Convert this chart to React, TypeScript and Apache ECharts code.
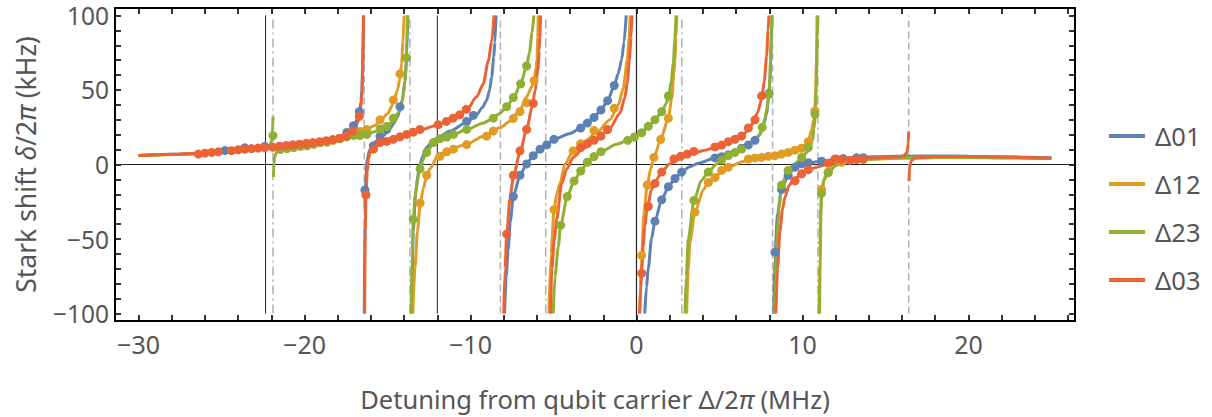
import React, { useEffect, useRef } from "react";
import * as echarts from "echarts";

const X_MIN = -31.42;
const X_MAX = 26.42;
const Y_MIN = -105;
const Y_MAX = 105;

const seriesNames = ["Δ01", "Δ12", "Δ23", "Δ03"];
const seriesColors = ["#5E81B5", "#E19C24", "#8FB032", "#EB6235"];

const solidLinesX = [-22.35, -12.0];
const dashedLinesX = [-16.4, -8.2, 8.2, 16.4];
const dashDotLinesX = [-21.9, -13.65, -5.47, 2.73, 10.93];

// fitted curves, split at the resonances
const curve01 = [
  [[-30,6.0],[-28,6.8],[-26,7.7],[-24,9.8],[-22,11.8],[-20,14.2],[-19,15.5],[-18,17.8],[-17.5,20],[-17.2,23],[-17.0,26],[-16.8,31],[-16.7,35],[-16.6,42],[-16.55,50],[-16.5,65],[-16.47,82],[-16.45,100]],
  [[-16.4,-100],[-16.37,-30],[-16.3,-8],[-16.22,3.5],[-16.1,9],[-15.95,12.5],[-15.6,16.5],[-15.25,19.5],[-14.9,23.5],[-14.65,27],[-14.4,32],[-14.25,37],[-14.1,44],[-13.95,56],[-13.85,72],[-13.78,100]],
  [[-13.55,-100],[-13.45,-45],[-13.3,-18],[-13.1,-3],[-12.9,5],[-12.64,11.5],[-12.3,15.5],[-11.98,18],[-11.23,22.4],[-10.23,28.3],[-9.63,33.3],[-9.3,38],[-9.03,43],[-8.85,50],[-8.73,58.6],[-8.6,72],[-8.53,82],[-8.46,100]],
  [[-7.95,-100],[-7.85,-75],[-7.74,-57.7],[-7.6,-38],[-7.42,-21.5],[-7.02,-7.2],[-6.62,0.4],[-6.22,5.9],[-5.81,10.3],[-5.41,13.1],[-4.97,16.9],[-4.0,20.8],[-3.36,24.5],[-2.96,27.8],[-2.56,31.6],[-2.14,36.6],[-1.74,42.8],[-1.34,53],[-1.1,61],[-0.89,70.6],[-0.75,82],[-0.62,100]],
  [[0.5,-100],[0.6,-82],[0.71,-70],[0.9,-50],[1.11,-38],[1.52,-23.7],[1.92,-14.9],[2.32,-9.4],[2.72,-5.1],[3.2,-1.5],[3.72,0.9],[4.73,4.4],[5.83,8.1],[6.5,11.5],[7.14,16.2],[7.44,20.2],[7.7,28],[7.84,34.4],[7.98,47.6],[8.04,57],[8.08,70],[8.13,85],[8.17,100]],
  [[8.27,-100],[8.34,-60],[8.5,-33],[8.74,-16.7],[9.14,-7.2],[9.55,-1.8],[10.25,0.9],[11.15,2.2],[12.05,3.7],[13.46,5],[15,5.4],[16.4,5.6],[18,5.7],[20,5.6],[22,5.2],[25,4.6]],
];
const curve12 = [
  [[-30,6.0],[-28,6.7],[-26,7.5],[-24,9.5],[-22,11.3],[-20,13.6],[-18.5,16],[-17.3,20],[-16.6,22.5],[-16.25,23.6],[-15.8,26],[-15.45,29],[-15.0,34],[-14.65,41],[-14.4,50],[-14.25,58],[-14.15,68],[-14.07,82],[-14.0,100]],
  [[-13.48,-100],[-13.34,-68.7],[-13.2,-45],[-13.04,-27],[-12.84,-16],[-12.64,-7.5],[-12.44,-2.9],[-11.98,5.9],[-11.23,10.3],[-10.23,13.6],[-9.23,19],[-8.23,24.6],[-7.62,29],[-7.02,36.6],[-6.62,45.4],[-6.32,52],[-6.17,57],[-6.05,65],[-5.99,71],[-5.95,85],[-5.92,100]],
  [[-5.28,-100],[-5.15,-60],[-4.97,-31],[-4.81,-20],[-4.61,-12.7],[-4.31,0.4],[-3.81,9.2],[-3.21,14.7],[-2.4,21.3],[-1.6,30],[-1.1,39.9],[-0.8,50.9],[-0.55,70.6],[-0.45,85],[-0.38,100]],
  [[0.2,-100],[0.31,-61],[0.45,-32.5],[0.65,-13.8],[0.85,-3],[1.05,4.8],[1.46,16.9],[1.92,31.1],[2.12,44.3],[2.26,61.8],[2.32,70.6],[2.38,85],[2.43,100]],
  [[3.02,-100],[3.12,-70],[3.22,-52],[3.52,-32],[4.02,-17.1],[4.33,-12],[4.73,-8.8],[5.13,-4.5],[5.53,-1.8],[6.43,2],[7.14,4.2],[7.94,5.3],[8.74,7],[9.14,8.1],[9.55,9.6],[9.95,11],[10.2,13.5],[10.4,17.5],[10.55,23],[10.68,30],[10.75,37],[10.8,50],[10.84,68],[10.88,100]],
  [[11.0,-100],[11.05,-60],[11.1,-30],[11.15,-18],[11.3,-9.5],[11.55,-4.5],[11.95,-0.7],[12.36,1.3],[13.0,2.8],[14,3.6],[16,4.2],[18,4.6],[20,4.6],[22,4.4],[25,4.0]],
];
const curve23 = [
  [[-30,6.0],[-28,6.7],[-26,7.5],[-24,9.5],[-22.5,11.3],[-22.1,12.5],[-21.98,16],[-21.93,22],[-21.9,32]],
  [[-21.88,-8.4],[-21.85,0],[-21.8,5],[-21.7,8],[-21.46,9.8],[-21,10.8],[-20,12.2],[-19,14.2],[-18,16.5],[-17.3,18.3],[-16.66,19.5],[-16.25,20.5],[-15.6,22.5],[-15.25,24.1],[-14.9,27],[-14.65,30],[-14.4,34],[-14.25,36.6],[-14.1,43],[-14.04,47.6],[-13.95,56],[-13.88,65.2],[-13.84,80],[-13.8,100]],
  [[-13.58,-100],[-13.51,-57.7],[-13.45,-37],[-13.34,-22],[-13.2,-10],[-13.04,-2.9],[-12.85,3.5],[-12.64,8.5],[-12.3,13],[-11.98,15.8],[-11.23,19.2],[-10.23,23.4],[-9.23,27.9],[-8.63,31],[-8.23,34.4],[-7.82,38.8],[-7.42,44.5],[-6.98,54],[-6.62,66],[-6.45,75],[-6.3,88],[-6.18,100]],
  [[-5.02,-100],[-4.91,-75],[-4.71,-55],[-4.57,-40.8],[-4.17,-21.5],[-3.76,-11],[-3.36,-4.4],[-2.96,1.5],[-2.56,5.3],[-2.14,8.6],[-1.2,13.6],[-0.53,16.2],[-0.13,18.4],[0.31,21.3],[0.71,25.6],[1.11,30],[1.52,35.5],[1.8,41],[1.92,45],[2.1,56],[2.22,68],[2.3,82],[2.38,100]],
  [[2.92,-100],[3.0,-75],[3.12,-50],[3.46,-24.1],[3.92,-10.5],[4.33,-5.1],[4.8,0],[5.13,3],[5.53,5.9],[6.23,9.8],[6.74,13.5],[7.14,16.5],[7.4,20],[7.58,25],[7.74,31],[7.84,36.6],[7.98,47],[8.04,58],[8.08,70],[8.13,86],[8.17,100]],
  [[8.32,-100],[8.37,-75],[8.44,-52],[8.6,-28],[8.74,-13.8],[9.14,-4],[9.55,0.5],[9.95,4.5],[10.2,7.5],[10.45,10.5],[10.6,16],[10.7,24],[10.77,34],[10.82,50],[10.86,70],[10.9,85],[10.93,100]],
  [[11.03,-100],[11.07,-62],[11.11,-35],[11.15,-20],[11.3,-10.5],[11.55,-5.5],[12.05,-0.5],[12.5,1.5],[13.5,3.2],[15,4.2],[16.4,4.7],[18,5.0],[20,4.9],[22,4.6],[25,4.1]],
];
const curve03 = [
  [[-30,6.0],[-28,6.8],[-26,7.6],[-24,9.6],[-22,11.6],[-20,14.0],[-19,15.2],[-18,17.3],[-17.5,19.2],[-17.2,21.5],[-17.0,23.5],[-16.8,28],[-16.7,32],[-16.6,39],[-16.55,45],[-16.5,60],[-16.47,80],[-16.45,100]],
  [[-16.38,-100],[-16.34,-45],[-16.3,-20],[-16.22,-5],[-16.15,3.7],[-16.01,10],[-15.85,12.5],[-15.65,14.3],[-15.25,15.8],[-14.5,18],[-13.24,22.4],[-12,26.3],[-11.23,30],[-10.23,36.6],[-9.63,45.4],[-9.23,54],[-8.93,69.5],[-8.72,82.6],[-8.58,100]],
  [[-8.0,-100],[-7.92,-70],[-7.82,-46.7],[-7.62,-22.6],[-7.42,-8.3],[-7.02,8.1],[-6.62,23.4],[-6.3,38],[-6.1,50],[-5.95,63],[-5.85,76],[-5.78,100]],
  [[-5.18,-100],[-5.1,-70],[-4.95,-50],[-4.81,-37],[-4.51,-13],[-4.2,-3],[-3.81,4.8],[-3.21,10.9],[-2.4,16.9],[-1.6,24.5],[-1.0,34.4],[-0.7,45],[-0.55,55],[-0.43,70],[-0.33,85],[-0.27,100]],
  [[0.18,-100],[0.26,-82],[0.31,-72],[0.4,-55],[0.5,-42],[0.61,-32],[0.71,-26],[0.9,-17],[1.11,-12],[1.52,-5],[2.0,0.5],[2.5,3.5],[3.2,7],[4.2,9.8],[4.8,11.8],[5.3,13.6],[5.9,16.2],[6.3,19],[6.74,23],[7.04,28],[7.3,35],[7.54,44],[7.7,56],[7.84,73],[7.93,90],[7.98,100]],
  [[8.4,-100],[8.5,-70],[8.64,-45],[8.8,-30],[8.94,-22],[9.2,-14],[9.45,-10.5],[10.05,-5.1],[10.85,-1.8],[11.65,0.9],[12.3,2.6],[12.86,3.5],[13.46,4.2],[14.5,4.6],[15.67,5.0],[16.1,5.8],[16.3,8],[16.37,14],[16.4,22]],
  [[16.42,-11],[16.45,-2],[16.55,2.5],[16.8,4.4],[18,5.4],[20,5.4],[22,5.0],[25,4.2]],
];

// measured points
const dots01 = [[-24.8,9.4],[-23.6,11.2],[-22.4,12.1],[-17.45,21.5],[-17.05,26],[-16.7,35.5],[-16.36,-17.1],[-15.85,12.5],[-15.45,19],[-15.05,23.4],[-14.25,38.8],[-10.23,29],[-9.83,33],[-7.42,-21.5],[-7.02,-7.2],[-6.62,0.4],[-6.22,5.9],[-5.81,10.3],[-5.41,13.1],[-4.97,16.9],[-3.36,24.5],[-2.96,27.8],[-2.56,31.6],[-2.14,36.6],[-1.74,42.8],[-1.34,53],[1.11,-38],[1.52,-23.7],[1.92,-14.9],[2.32,-9.4],[2.72,-5.1],[4.73,4.4],[5.13,5.2],[5.53,6.5],[6.33,10.9],[6.74,13.1],[7.14,16.2],[7.98,47.6],[8.34,-58.8],[8.74,-16.7],[9.14,-7.2],[9.55,-1.8],[9.95,0.5],[10.35,1.2],[11.15,2.2],[12.06,3.5],[12.46,4.0],[13.26,4.5],[13.66,4.6]];
const dots12 = [[-19.9,13.6],[-18.3,16.2],[-16.65,22.2],[-16.25,23.4],[-15.45,30],[-14.65,43.2],[-14.25,60.8],[-13.04,-25.9],[-12.64,-7.2],[-11.84,5.5],[-11.43,8.5],[-11.03,10.3],[-10.23,13.4],[-9.03,19],[-8.63,22.4],[-7.42,31],[-7.02,35.5],[-6.62,41.5],[-6.17,56.3],[-4.97,-30.3],[-3.81,9.2],[-3.36,14],[-2.56,22.8],[-1.34,37.7],[0.31,-61],[0.65,-13.8],[1.05,4.8],[1.46,16.9],[1.92,31.1],[3.52,-32],[4.33,-12],[4.73,-8.8],[5.13,-4],[5.53,-1.8],[6.74,3.7],[7.14,4.4],[7.54,4.8],[7.94,5.5],[8.34,5.9],[8.74,7.0],[9.14,8.1],[9.55,9.6],[9.95,10.9],[10.35,15.3],[10.75,35.9],[11.15,-16.7],[11.55,-5.1],[12.36,1.5]];
const dots23 = [[-21.9,19.4],[-21.46,10],[-21.06,10.7],[-20.65,11.4],[-20.25,12.1],[-19.85,12.5],[-19.45,13.6],[-19.05,14.7],[-18.65,15.1],[-18.25,16.4],[-17.85,17.3],[-17.45,18.6],[-17.05,19.5],[-16.66,19.5],[-16.25,20.2],[-15.45,23.9],[-15.05,25.5],[-14.65,31.1],[-13.85,71.7],[-13.45,-36.8],[-13.04,-2.9],[-12.64,8.1],[-12.24,14.7],[-11.84,17.3],[-11.43,18.4],[-11.03,20.2],[-10.23,23.5],[-8.63,31.1],[-7.82,38.8],[-7.42,44.9],[-6.98,54.1],[-6.62,66.1],[-4.57,-40.8],[-4.17,-21.5],[-3.76,-11],[-3.36,-4.4],[-2.96,1.5],[-2.56,5.3],[-2.14,8.6],[-0.53,16.2],[-0.13,18.4],[0.31,21.3],[0.71,25.6],[1.11,30],[1.52,35.5],[1.92,46],[3.46,-24.1],[4.33,-5.1],[5.13,3],[5.53,5.9],[5.93,8.1],[6.33,10.3],[7.58,25],[7.98,47],[8.74,-13.8],[9.14,-4],[9.95,4.8],[10.35,11.4],[10.75,33.8],[11.15,-19.3],[11.55,-5.5]];
const dots03 = [[-26.4,7.0],[-26.0,7.6],[-25.6,8.1],[-25.2,8.5],[-24.4,9.3],[-24.0,9.9],[-23.6,10.3],[-23.2,10.7],[-22.8,11.0],[-22.4,11.3],[-21.9,11.6],[-21.5,12.3],[-21.1,12.8],[-20.7,13.2],[-20.3,13.6],[-19.9,14.2],[-19.5,14.7],[-19.1,15.3],[-18.7,16.0],[-18.3,16.7],[-17.9,17.6],[-17.5,19.0],[-17.1,22.4],[-16.7,32.3],[-16.3,-20.4],[-15.85,10.3],[-15.45,14.7],[-15.05,15.5],[-14.65,16.9],[-14.25,18.6],[-13.85,20.2],[-13.45,21.7],[-13.05,23.5],[-11.95,26.7],[-11.45,28.9],[-11.05,31.1],[-10.65,33.3],[-10.25,37.0],[-7.82,-46.7],[-7.42,-7.2],[-7.02,9.2],[-6.62,23.4],[-6.22,41.0],[-3.36,11.4],[-2.96,14.0],[-2.56,16.2],[-2.14,19.1],[-1.74,23.4],[0.31,-73],[0.71,-28.1],[1.11,-12.7],[1.52,-5.1],[2.26,3.7],[2.66,5.5],[3.06,7.0],[3.46,8.8],[4.73,11.8],[5.13,13.0],[5.53,15.3],[5.93,16.9],[6.33,19.1],[6.74,24.5],[7.14,30],[7.54,46],[9.55,-10.9],[9.95,-6.2],[10.35,-3.5],[11.55,0.9],[11.96,3.7],[12.36,3.3],[12.86,2.8],[13.26,3.3],[13.66,3.5]];

const curves = [curve01, curve12, curve23, curve03];
const dots = [dots01, dots12, dots23, dots03];

const FONT = "Noto Sans";
const TEXT = "#555555";

function joinSegments(segs: number[][][]) {
  const out: any[] = [];
  segs.forEach((s, i) => {
    if (i > 0) out.push([s[0][0], "-"]);
    s.forEach((p) => out.push(p));
  });
  return out;
}
function vLines(xs: number[], lo: number, hi: number) {
  const out: any[] = [];
  xs.forEach((x, i) => {
    if (i > 0) out.push([x, "-"]);
    out.push([x, lo], [x, hi]);
  });
  return out;
}
const minus = (s: string) => s.replace("-", "\u2212");

export default function App() {
  const ref = useRef<HTMLDivElement>(null);
  useEffect(() => {
    if (!ref.current) return;
    const chart = echarts.init(ref.current, undefined, { renderer: "svg" });
    const axisLine = { show: true, onZero: false, lineStyle: { color: "#000", width: 2 } };
    const tick = { show: true, inside: true, length: 6, lineStyle: { color: "#000", width: 1.6 } };
    const minorT = { show: true, splitNumber: 5, length: 6, lineStyle: { color: "#000", width: 1.6 } };
    const xBase = { type: "value", min: X_MIN, max: X_MAX, minInterval: 10, maxInterval: 10, axisLine, axisTick: tick, minorTick: minorT, splitLine: { show: false } };
    const yBase = { type: "value", min: Y_MIN, max: Y_MAX, minInterval: 50, maxInterval: 50, axisLine, axisTick: tick, minorTick: minorT, splitLine: { show: false } };
    const labelStyle = { fontFamily: FONT, fontSize: 25, lineHeight: 20, color: TEXT };

    const series: any[] = [];
    series.push({ type: "line", data: vLines(solidLinesX, -100, 100), symbol: "none", silent: true, z: 1, lineStyle: { color: "#222", width: 1 } });
    series.push({ type: "line", data: [[0, Y_MIN], [0, Y_MAX], [0, "-"], [X_MIN, 0], [X_MAX, 0]], symbol: "none", silent: true, z: 1, lineStyle: { color: "#222", width: 1.2 } });
    series.push({ type: "line", data: vLines(dashedLinesX, -100, 100), symbol: "none", silent: true, z: 1, lineStyle: { color: "#b0b0b0", width: 1.5, type: [7, 4] } });
    series.push({ type: "line", data: vLines(dashDotLinesX, -100, 100), symbol: "none", silent: true, z: 1, lineStyle: { color: "#b0b0b0", width: 1.5, type: [9, 4, 2, 4] } });
    seriesNames.forEach((name, i) => {
      series.push({
        name, type: "line", data: joinSegments(curves[i] as number[][][]), symbol: "none", showSymbol: false,
        smooth: 0.25, smoothMonotone: "x", z: 2, connectNulls: false,
        lineStyle: { color: seriesColors[i], width: 3 }, itemStyle: { color: seriesColors[i] },
      });
    });
    seriesNames.forEach((name, i) => {
      series.push({
        name, type: "scatter", data: dots[i], symbol: "circle", symbolSize: 9, z: 3,
        itemStyle: { color: seriesColors[i], opacity: 1 },
      });
    });

    const titleStyle = (size: number, pad: number[]) => ({
      fontFamily: FONT, fontSize: size, color: TEXT, padding: pad,
      rich: { i: { fontFamily: FONT, fontSize: size, color: TEXT, fontStyle: "italic" } },
    });

    chart.setOption({
      animation: false,
      backgroundColor: "#fff",
      grid: { left: 115, top: 8, width: 960, height: 320, containLabel: false },
      xAxis: [
        {
          ...xBase, position: "bottom",
          axisLabel: { ...labelStyle, margin: 13, formatter: (v: number) => (Math.abs(v % 10) < 1e-6 ? minus(String(v)) : "") },
          name: "Detuning from qubit carrier Δ/2{i|π} (MHz)", nameLocation: "middle", nameGap: 65,
          nameTextStyle: titleStyle(25.5, [0, 0, 0, 0]),
        },
        { ...xBase, position: "top", axisLabel: { show: false } },
      ],
      yAxis: [
        {
          ...yBase, position: "left",
          axisLabel: { ...labelStyle, fontSize: 24.5, padding: [5, 0, 0, 0], margin: 6, formatter: (v: number) => (Math.abs(v % 50) < 1e-6 ? minus(String(v)) : "") },
          name: "Stark shift {i|δ}/2{i|π} (kHz)", nameLocation: "middle", nameGap: 76, nameRotate: 90,
          nameTextStyle: titleStyle(26.5, [0, 0, 0, 0]),
        },
        { ...yBase, position: "right", axisLabel: { show: false } },
      ],
      legend: {
        orient: "vertical", left: 1104, top: 118, itemWidth: 36, itemHeight: 4, itemGap: 22, icon: "rect",
        data: seriesNames, selectedMode: false,
        textStyle: { fontFamily: FONT, fontSize: 25.5, color: TEXT, padding: [0, 0, 0, 5] },
      },
      series,
    });
    return () => chart.dispose();
  }, []);
  return <div ref={ref} style={{ position: "fixed", left: 0, top: 0, width: 1212, height: 417, background: "#fff" }} />;
}
